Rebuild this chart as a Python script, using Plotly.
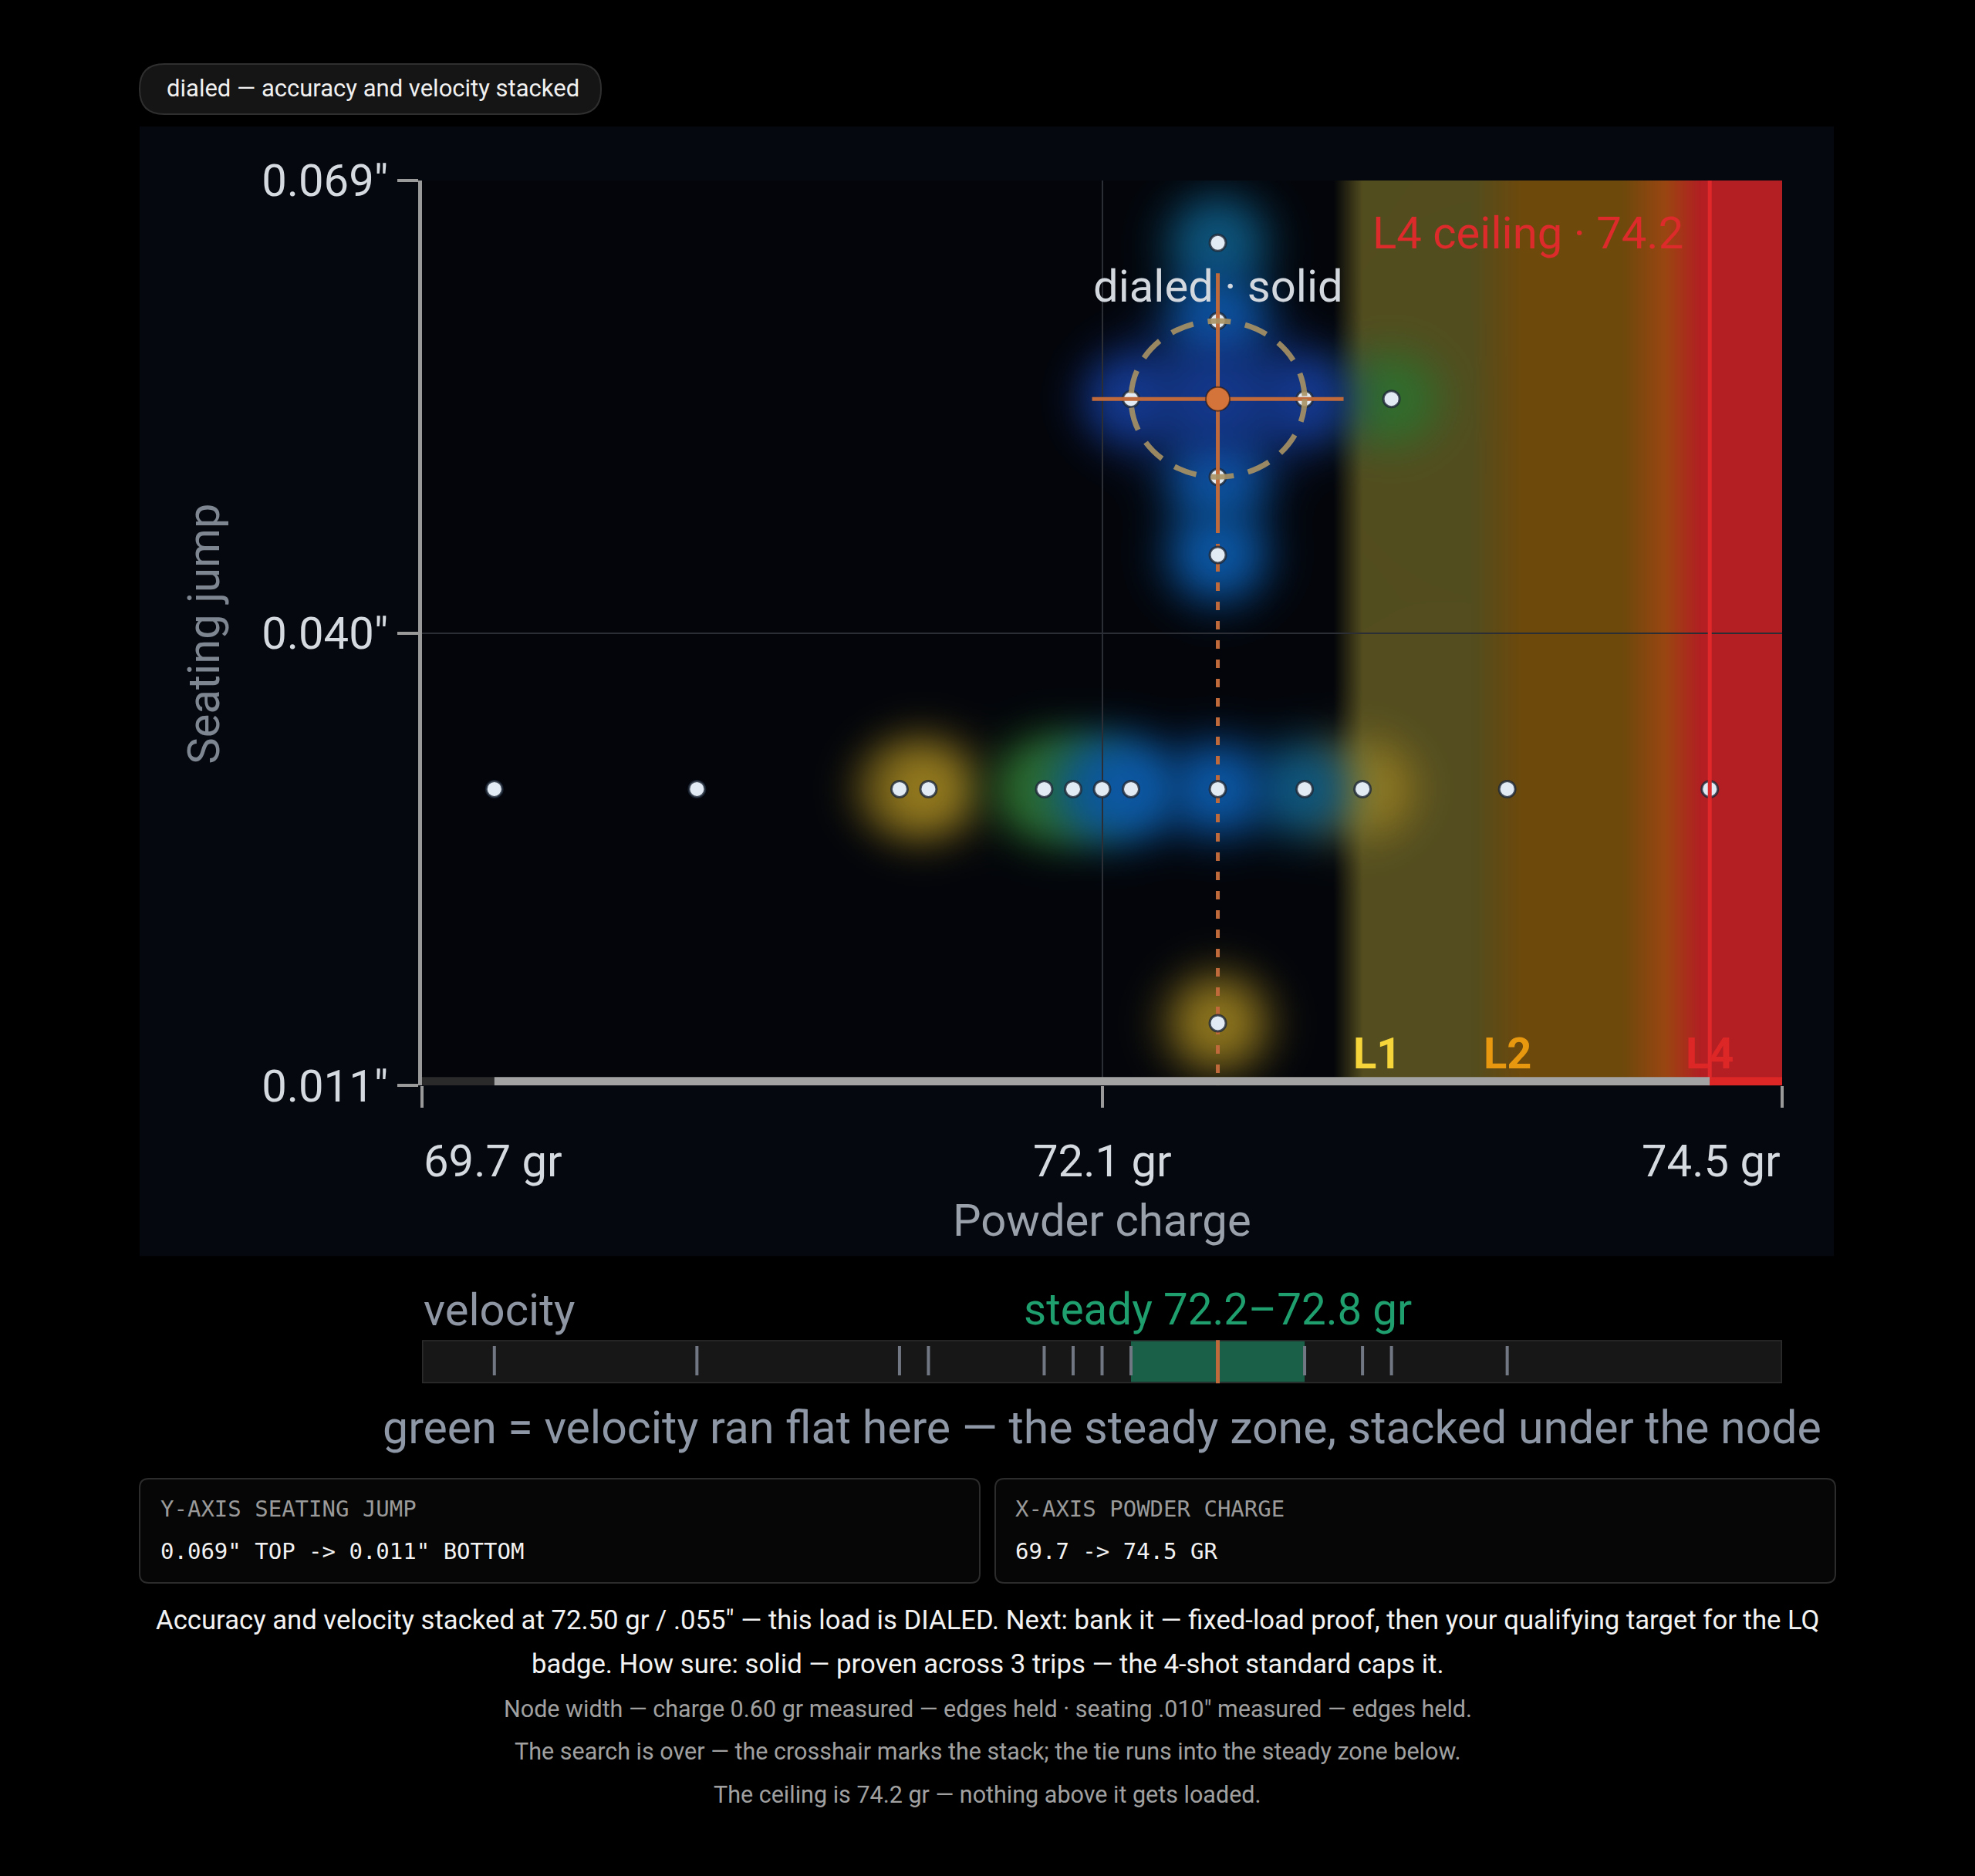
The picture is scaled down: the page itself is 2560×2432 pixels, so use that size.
import base64
import struct
import zlib

import numpy as np
import plotly.graph_objects as go

# ------------------------------------------------------------------ data
CHARGE_RANGE = [69.75, 74.45]
SEAT_RANGE = [0.011, 0.069]
X_TICKS = [69.75, 72.1, 74.45]
X_TICK_TEXT = ["69.7 gr", "72.1 gr", "74.5 gr"]
Y_TICKS = [0.069, 0.040, 0.011]
Y_TICK_TEXT = ['0.069"', '0.040"', '0.011"']

ROW_SEATING = 0.030
ROW_CHARGES = [70.0, 70.7, 71.4, 71.5, 71.9, 72.0, 72.1, 72.2, 72.5, 72.8, 73.0, 73.5, 74.2]
ROW_GLOW = [None, None, "yellow_weak", "yellow", "green", "green", "teal", "blue", "blue",
            "teal", "yellow", None, None]

COL_CHARGE = 72.5
COL_SEATINGS = [0.065, 0.060, 0.050, 0.045, 0.015]
COL_GLOW = ["teal", "blue", "blue", "blue", "yellow"]

NODE_ROW_CHARGES = [72.2, 72.8, 73.1]
NODE_ROW_GLOW = ["indigo", "indigo", "green"]

NODE_CHARGE = 72.50
NODE_SEATING = 0.055
NODE_WIDTH_GR = 0.60
NODE_WIDTH_IN = 0.010

TESTED_MIN = 70.0
CEILING = 74.2
LEVEL_NAMES = ["L1", "L2", "L4"]
LEVEL_CHARGES = [73.05, 73.5, 74.2]
LEVEL_COLORS = ["#f5d53a", "#e8980f", "#dd2626"]

# pressure band colour stops (charge, rgb, alpha)
BAND_X = [72.90, 73.00, 73.38, 73.55, 73.90, 74.05, 74.17, 74.45]
BAND_RGB = [(83, 77, 31), (83, 77, 31), (83, 77, 31), (110, 73, 12), (110, 73, 12),
            (155, 70, 18), (179, 31, 35), (179, 31, 35)]
BAND_A = [0.0, 1.0, 1.0, 1.0, 1.0, 1.0, 1.0, 1.0]

VELOCITY_CHARGES = [70.0, 70.7, 71.4, 71.5, 71.9, 72.0, 72.1, 72.2, 72.5, 72.8, 73.0, 73.1, 73.5]
STEADY_RANGE = [72.2, 72.8]

# ------------------------------------------------------------------ geometry / style
W, H = 2560, 2432
# vertical calibration of the photographed page
VK, VOFF = 0.9725, 33.0


def Y(v):
    """target pixel row -> layout pixel row"""
    return (v - VOFF) / VK


PLOT_L, PLOT_R = 547, 2310
PLOT_T, PLOT_B = Y(233), Y(1407)
STRIP_T, STRIP_B = Y(1737), Y(1793)
FONT = "Roboto, 'Noto Sans', sans-serif"
MONO = "'DejaVu Sans Mono', monospace"
BG_PLOT = np.array([3, 5, 10], dtype=float)
ORANGE = "#c06a3c"
ARM_PX = 163

PX_PER_GR = (PLOT_R - PLOT_L) / (CHARGE_RANGE[1] - CHARGE_RANGE[0])
PX_PER_IN = (PLOT_B - PLOT_T) * VK / (SEAT_RANGE[1] - SEAT_RANGE[0])

GLOW_STYLE = {
    "yellow_weak": ((158, 130, 32), 0.45, 64, 64),
    "yellow": ((158, 130, 32), 0.85, 70, 68),
    "green": ((46, 112, 46), 0.88, 70, 68),
    "teal": ((14, 88, 128), 0.9, 70, 68),
    "blue": ((12, 88, 166), 0.92, 70, 68),
    "indigo": ((20, 56, 140), 0.95, 66, 64),
    "core": ((20, 56, 140), 0.97, 115, 90),
}
GLOW_ORDER = ["yellow_weak", "yellow", "green", "teal", "blue", "indigo", "core"]


def px(v):
    return v / W


def py(v):
    return 1 - v / H


def png_uri(arr):
    h, w, _ = arr.shape
    raw = b"".join(b"\x00" + arr[r].tobytes() for r in range(h))

    def chunk(tag, data):
        c = struct.pack(">I", len(data)) + tag + data
        return c + struct.pack(">I", zlib.crc32(tag + data) & 0xFFFFFFFF)

    png = (b"\x89PNG\r\n\x1a\n"
           + chunk(b"IHDR", struct.pack(">IIBBBBB", w, h, 8, 2, 0, 0, 0))
           + chunk(b"IDAT", zlib.compress(raw, 9))
           + chunk(b"IEND", b""))
    return "data:image/png;base64," + base64.b64encode(png).decode()


# ------------------------------------------------------------------ heat layer image
NX, NY = 882, 604
xs = CHARGE_RANGE[0] + (np.arange(NX) + 0.5) / NX * (CHARGE_RANGE[1] - CHARGE_RANGE[0])
ys = SEAT_RANGE[1] - (np.arange(NY) + 0.5) / NY * (SEAT_RANGE[1] - SEAT_RANGE[0])
XX, YY = np.meshgrid(xs, ys)
img = np.zeros((NY, NX, 3)) + BG_PLOT

brgb = np.array(BAND_RGB, dtype=float)
band_col = np.stack([np.interp(xs, BAND_X, brgb[:, k], left=0, right=brgb[-1, k]) for k in range(3)], -1)
band_a = np.interp(xs, BAND_X, BAND_A, left=0.0, right=1.0)
img = img * (1 - band_a[None, :, None]) + band_col[None, :, :] * band_a[None, :, None]

glow_pts = []
glow_pts += [(c, ROW_SEATING, g) for c, g in zip(ROW_CHARGES, ROW_GLOW)]
glow_pts += [(COL_CHARGE, s, g) for s, g in zip(COL_SEATINGS, COL_GLOW)]
glow_pts += [(c, NODE_SEATING, g) for c, g in zip(NODE_ROW_CHARGES, NODE_ROW_GLOW)]
glow_pts += [(NODE_CHARGE, NODE_SEATING, "core")]

for tier in GLOW_ORDER:
    col, amax, rx, ry = GLOW_STYLE[tier]
    keep = np.ones((NY, NX))
    for (gx, gy, g) in glow_pts:
        if g != tier:
            continue
        d = np.sqrt(((XX - gx) * PX_PER_GR / rx) ** 2 + ((YY - gy) * PX_PER_IN / ry) ** 2)
        keep *= 1 - amax * np.exp(-d ** 2.5)
    A = (1 - keep)[..., None]
    img = img * (1 - A) + np.array(col, dtype=float) * A

heat_uri = png_uri(np.clip(img, 0, 255).astype(np.uint8))

# ------------------------------------------------------------------ figure
fig = go.Figure()

arm_gr = ARM_PX / PX_PER_GR
arm_in = ARM_PX / PX_PER_IN

# tie line down to the steady zone
fig.add_trace(go.Scatter(
    x=[NODE_CHARGE, NODE_CHARGE], y=[NODE_SEATING - arm_in, SEAT_RANGE[0]],
    mode="lines", line=dict(color=ORANGE, width=5, dash="11px,14px"), hoverinfo="skip"))

# shots
all_x = ROW_CHARGES + [COL_CHARGE] * len(COL_SEATINGS) + NODE_ROW_CHARGES
all_y = [ROW_SEATING] * len(ROW_CHARGES) + COL_SEATINGS + [NODE_SEATING] * len(NODE_ROW_CHARGES)
fig.add_trace(go.Scatter(
    x=all_x, y=all_y, mode="markers",
    marker=dict(size=21, color="#e2ebf3", line=dict(color="rgba(30,40,55,0.8)", width=3)),
    hoverinfo="skip"))

# crosshair
fig.add_trace(go.Scatter(
    x=[NODE_CHARGE - arm_gr, NODE_CHARGE + arm_gr, None, NODE_CHARGE, NODE_CHARGE],
    y=[NODE_SEATING, NODE_SEATING, None, NODE_SEATING + arm_in, NODE_SEATING - arm_in],
    mode="lines", line=dict(color=ORANGE, width=5), hoverinfo="skip"))
fig.add_trace(go.Scatter(
    x=[NODE_CHARGE], y=[NODE_SEATING], mode="markers",
    marker=dict(size=31, color="#d4733a", line=dict(color="rgba(40,20,10,0.6)", width=2)),
    hoverinfo="skip"))

# velocity strip ticks
vx, vy = [], []
for c in VELOCITY_CHARGES:
    vx += [c, c, None]
    vy += [0.18, 0.86, None]
fig.add_trace(go.Scatter(x=vx, y=vy, xaxis="x2", yaxis="y2", mode="lines",
                         line=dict(color="#717783", width=4), hoverinfo="skip"))
fig.add_trace(go.Scatter(x=[NODE_CHARGE, NODE_CHARGE], y=[-0.23, 1.25], xaxis="x2", yaxis="y2",
                         mode="lines", line=dict(color=ORANGE, width=5), hoverinfo="skip",
                         cliponaxis=False))

shapes = []


def rrect_path(x0, y0, x1, y1, r):
    ry = r / VK
    y0, y1 = Y(y0), Y(y1)
    X = px
    P = py
    return " ".join([
        f"M {X(x0 + r)},{P(y0)}", f"L {X(x1 - r)},{P(y0)}", f"Q {X(x1)},{P(y0)} {X(x1)},{P(y0 + ry)}",
        f"L {X(x1)},{P(y1 - ry)}", f"Q {X(x1)},{P(y1)} {X(x1 - r)},{P(y1)}",
        f"L {X(x0 + r)},{P(y1)}", f"Q {X(x0)},{P(y1)} {X(x0)},{P(y1 - ry)}",
        f"L {X(x0)},{P(y0 + ry)}", f"Q {X(x0)},{P(y0)} {X(x0 + r)},{P(y0)}", "Z"])


# chart panel
shapes.append(dict(type="rect", xref="paper", yref="paper", x0=px(181), x1=px(2377),
                   y0=py(Y(1628)), y1=py(Y(163)),
                   fillcolor="#05080e", line=dict(width=0), layer="below"))
# pill
shapes.append(dict(type="path", xref="paper", yref="paper", path=rrect_path(181, 82, 779, 147, 32),
                   fillcolor="#151515", line=dict(color="#2f2f2f", width=2), layer="below"))
# info boxes
for bx0, bx1 in [(181, 1270), (1290, 2379)]:
    shapes.append(dict(type="path", xref="paper", yref="paper", path=rrect_path(bx0, 1917, bx1, 2052, 12),
                       fillcolor="#060606", line=dict(color="#2c2c2c", width=2), layer="below"))

# node ellipse
shapes.append(dict(type="circle", xref="x", yref="y",
                   x0=NODE_CHARGE - NODE_WIDTH_GR / 2, x1=NODE_CHARGE + NODE_WIDTH_GR / 2,
                   y0=NODE_SEATING - NODE_WIDTH_IN / 2, y1=NODE_SEATING + NODE_WIDTH_IN / 2,
                   line=dict(color="rgba(168,146,100,0.9)", width=7, dash="30px,19px"), layer="above"))
# ceiling line
shapes.append(dict(type="line", xref="x", yref="y", x0=CEILING, x1=CEILING, y0=SEAT_RANGE[0], y1=SEAT_RANGE[1],
                   line=dict(color="#e0282a", width=5), layer="above"))
# tested-range bar on the charge axis
for a, b, colr in [(CHARGE_RANGE[0], TESTED_MIN, "#2a2a2a"), (TESTED_MIN, CEILING, "#a3a3a3"),
                   (CEILING, CHARGE_RANGE[1], "#dd2626")]:
    shapes.append(dict(type="rect", xref="x", yref="y", ysizemode="pixel", yanchor=SEAT_RANGE[0],
                       x0=a, x1=b, y0=0, y1=11, fillcolor=colr, line=dict(width=0), layer="above"))

# velocity strip
shapes.append(dict(type="rect", xref="x2", yref="y2", x0=CHARGE_RANGE[0], x1=CHARGE_RANGE[1], y0=0, y1=1,
                   fillcolor="#171717", line=dict(color="#2c2c2c", width=3), layer="below"))
shapes.append(dict(type="rect", xref="x2", yref="y2", x0=STEADY_RANGE[0], x1=STEADY_RANGE[1], y0=0.03, y1=0.97,
                   fillcolor="#1a5f48", line=dict(width=0), layer="below"))

images = [dict(source=heat_uri, xref="x", yref="y", x=CHARGE_RANGE[0], y=SEAT_RANGE[1],
               sizex=CHARGE_RANGE[1] - CHARGE_RANGE[0], sizey=SEAT_RANGE[1] - SEAT_RANGE[0],
               sizing="stretch", xanchor="left", yanchor="top", layer="below")]

ann = []


def txt(text, x, y, size, color, xanchor="center", family=FONT, xref="paper", yref="paper", **kw):
    d = dict(text=text, x=x, y=y, xref=xref, yref=yref, xanchor=xanchor, yanchor="middle",
             showarrow=False, font=dict(size=size, color=color, family=family))
    d.update(kw)
    ann.append(d)


def pyt(v):
    return py(Y(v))


txt("dialed — accuracy and velocity stacked", px(214), pyt(114), 31, "#f0f0f0", xanchor="left")

for v, t, anc in zip(X_TICKS, X_TICK_TEXT, ["left", "center", "right"]):
    txt(t, v, pyt(1505), 58, "#d5d9e0", xanchor=anc, xref="x")
txt("Powder charge", px((PLOT_L + PLOT_R) / 2), pyt(1582), 58, "#9aa1ab")
txt("Seating jump", px(264), pyt(821), 58, "#7e8691", textangle=-90)

txt("dialed · solid", NODE_CHARGE, NODE_SEATING, 58, "#d3d8df", xref="x", yref="y", yshift=142 / VK)
txt("L4 ceiling · 74.2", CEILING, SEAT_RANGE[1], 58, "#dd2a2a", xanchor="right", xref="x", yref="y",
    xshift=-32, yshift=-66 / VK)
for name, c, colr in zip(LEVEL_NAMES, LEVEL_CHARGES, LEVEL_COLORS):
    txt(f"<b>{name}</b>", c, SEAT_RANGE[0], 56, colr, xref="x", yref="y", yshift=40 / VK)

txt("velocity", px(PLOT_L), pyt(1698), 58, "#8f96a3", xanchor="left")
txt("steady 72.2–72.8 gr", NODE_CHARGE, pyt(1698), 56.5, "#1f9e6e", xref="x2")
txt("green = velocity ran flat here — the steady zone, stacked under the node",
    px((PLOT_L + PLOT_R) / 2), pyt(1850), 59, "#8e97a5")

txt("Y-AXIS SEATING JUMP", px(206), pyt(1956), 29, "#9a9a9a", xanchor="left", family=MONO)
txt('0.069" TOP -> 0.011" BOTTOM', px(206), pyt(2011), 29, "#f2f2f2", xanchor="left", family=MONO)
txt("X-AXIS POWDER CHARGE", px(1314), pyt(1956), 29, "#9a9a9a", xanchor="left", family=MONO)
txt("69.7 -> 74.5 GR", px(1314), pyt(2011), 29, "#f2f2f2", xanchor="left", family=MONO)

txt('Accuracy and velocity stacked at 72.50 gr / .055" — this load is DIALED. Next: bank it — '
    'fixed-load proof, then your qualifying target for the LQ', px(1280), pyt(2100), 34.7, "#f2f2f2")
txt("badge. How sure: solid — proven across 3 trips — the 4-shot standard caps it.",
    px(1280), pyt(2157), 34.7, "#f2f2f2")
txt('Node width — charge 0.60 gr measured — edges held · seating .010" measured — edges held.',
    px(1280), pyt(2216), 30.5, "#a0a0a0")
txt("The search is over — the crosshair marks the stack; the tie runs into the steady zone below.",
    px(1280), pyt(2271), 30.5, "#a0a0a0")
txt("The ceiling is 74.2 gr — nothing above it gets loaded.", px(1280), pyt(2327), 30.5, "#a0a0a0")

fig.update_layout(
    width=W, height=H, autosize=False,
    margin=dict(l=0, r=0, t=0, b=0, pad=0),
    paper_bgcolor="#000000", plot_bgcolor="rgba(0,0,0,0)",
    showlegend=False, font=dict(family=FONT),
    xaxis=dict(domain=[px(PLOT_L), px(PLOT_R)], range=CHARGE_RANGE, tickvals=X_TICKS,
               showticklabels=False, ticks="outside", ticklen=28, tickwidth=4, tickcolor="#9a9a9a",
               showgrid=True, gridcolor="#2b2e34", gridwidth=2, zeroline=False, showline=False,
               anchor="y", fixedrange=True),
    yaxis=dict(domain=[py(PLOT_B), py(PLOT_T)], range=SEAT_RANGE, tickvals=Y_TICKS, ticktext=Y_TICK_TEXT,
               ticks="outside", ticklen=27, tickwidth=4, tickcolor="#9a9a9a",
               tickfont=dict(size=58, color="#d5d9e0", family=FONT),
               showgrid=True, gridcolor="#2b2e34", gridwidth=2, zeroline=False,
               showline=True, linecolor="#9a9a9a", linewidth=5, anchor="x", fixedrange=True),
    xaxis2=dict(domain=[px(PLOT_L), px(PLOT_R)], range=CHARGE_RANGE, visible=False, anchor="y2",
                fixedrange=True),
    yaxis2=dict(domain=[py(STRIP_B), py(STRIP_T)], range=[0, 1], visible=False, anchor="x2",
                fixedrange=True),
    shapes=shapes, annotations=ann, images=images,
)

fig.write_html("out.html", config={"displayModeBar": False},
               post_script="document.body.style.margin='0';document.body.style.background='#000';"
                           "document.body.style.overflow='hidden';")
